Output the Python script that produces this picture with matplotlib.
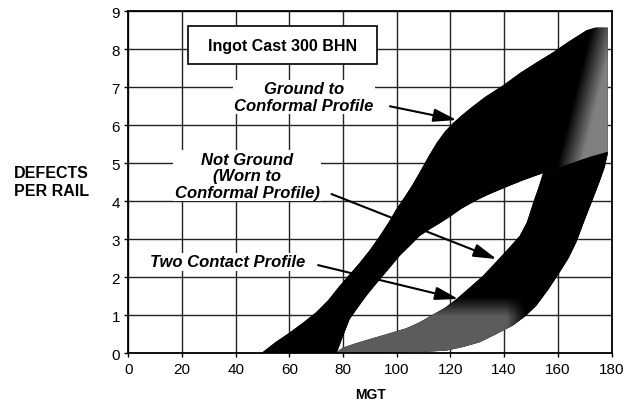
import numpy as np
import matplotlib
matplotlib.use("Agg")
import matplotlib.pyplot as plt

plt.rcParams['font.family'] = ['Liberation Sans', 'DejaVu Sans']

# axis ticks
x_ticks = [0, 20, 40, 60, 80, 100, 120, 140, 160, 180]
y_ticks = [0, 1, 2, 3, 4, 5, 6, 7, 8, 9]

# band 1 ("Ground to Conformal Profile") - upper/left edge and lower/right edge
band1_top_x = [49.5, 55, 60.2, 65, 70, 74.5, 78.8, 82.5, 86.3, 90, 93.7, 97, 99.9,
               103, 106, 109, 112, 115, 118, 121, 124, 128, 133, 139.6, 146, 152,
               158.2, 164, 170.7, 174, 178.6]
band1_top_y = [0, 0.3, 0.55, 0.8, 1.08, 1.4, 1.78, 2.08, 2.39, 2.72, 3.09, 3.45, 3.8,
               4.12, 4.45, 4.82, 5.2, 5.55, 5.84, 6.06, 6.25, 6.48, 6.75, 7.05, 7.38,
               7.65, 7.92, 8.2, 8.5, 8.57, 8.57]
band1_bot_x = [77.6, 80, 82.5, 85.5, 88.8, 91.8, 94.9, 98, 101.2, 104.8, 108.6, 112,
               116, 120, 124, 129, 134, 140, 147, 154.5, 160, 165, 172, 178.6]
band1_bot_y = [0, 0.45, 0.9, 1.2, 1.52, 1.78, 2.04, 2.3, 2.57, 2.82, 3.09, 3.25,
               3.42, 3.6, 3.8, 4.0, 4.17, 4.35, 4.55, 4.74, 4.88, 5.0, 5.17, 5.3]

# band 2 (not ground / two contact) - upper/left edge and lower/right edge
band2_top_x = [77.5, 80, 85, 91.2, 97, 103.6, 108.6, 113, 118, 122.3, 127, 132, 137.2,
               141.5, 145.8, 148.5, 151, 153, 154.5, 160, 165, 172, 178.6]
band2_top_y = [0.03, 0.15, 0.27, 0.4, 0.52, 0.66, 0.82, 1.0, 1.2, 1.43, 1.72, 2.03, 2.42,
               2.75, 3.09, 3.45, 4.0, 4.4, 4.74, 4.88, 5.0, 5.17, 5.3]
band2_bot_x = [77.5, 95, 108.6, 118.5, 125, 130.9, 137, 143.3, 148, 152, 156.5, 160.7,
               164, 166.9, 170, 173.1, 175.5, 177.5, 178.6]
band2_bot_y = [0.01, 0.02, 0.03, 0.07, 0.17, 0.29, 0.5, 0.73, 0.98, 1.25, 1.68, 2.13,
               2.5, 2.92, 3.5, 4.06, 4.5, 4.9, 5.25]

# labels: (text, x, y) and arrows: (start, tip)
title_box = ("  Ingot Cast 300 BHN  ", 57.4, 8.11)
labels = [("Ground to\nConformal Profile", 65.3, 6.75),
          ("Not Ground\n(Worn to\nConformal Profile)", 44.3, 4.67),
          ("Two Contact Profile", 37.1, 2.41)]
arrows = [((97.5, 6.5), (122.3, 6.14)),
          ((75.7, 4.19), (137.2, 2.48)),
          ((70.7, 2.32), (122.9, 1.43))]

fig = plt.figure(figsize=(6.35, 4.02), dpi=100)
ax = fig.add_axes([0.202, 0.1187, 0.761, 0.8507])

ax.set_xticks(x_ticks)
ax.set_yticks(y_ticks)
ax.set_axisbelow(True)
ax.grid(True, color='#222222', lw=1.0)
for s in ax.spines.values():
    s.set_linewidth(1.3)
ax.tick_params(length=3, width=1, labelsize=11, pad=3)

# bands
p1 = ax.fill(band1_top_x + [178.6] + band1_bot_x[::-1],
             band1_top_y + [5.3] + band1_bot_y[::-1], color='black', lw=0, zorder=2)[0]
p2 = ax.fill(band2_top_x + band2_bot_x[::-1],
             band2_top_y + band2_bot_y[::-1], color='black', lw=0, zorder=2)[0]

# faded photocopy shading on parts of the bands
gx, gy = np.meshgrid(np.linspace(0, 180, 361), np.linspace(0, 9, 181))
shade1 = np.clip((gx - (163.5 + 3.5 * (gy - 6))) / 9, 0, 1) * 0.5
shade2 = np.clip((1.45 - gy) / 0.5, 0, 1) * np.clip((148 - gx) / 7, 0, 1) * 0.36
for shade, patch in [(shade1, p1), (shade2, p2)]:
    im = ax.imshow(shade, origin='lower', extent=[0, 180, 0, 9], cmap='gray',
                   vmin=0, vmax=1, aspect='auto', interpolation='bilinear', zorder=2.5)
    im.set_clip_path(patch)
ax.set_xlim(0, 180)
ax.set_ylim(0, 9)

ax.text(title_box[1], title_box[2], title_box[0], ha='center', va='center',
        fontsize=11.5, fontweight='bold', zorder=5,
        bbox=dict(boxstyle='square,pad=0.7', fc='white', ec='black', lw=1.2))

for txt, x, y in labels:
    ax.text(x, y, txt, ha='center', va='center', fontsize=12, fontweight='bold',
            style='italic', linespacing=1.15, zorder=5,
            bbox=dict(fc='white', ec='none', pad=1))

for start, tip in arrows:
    ax.annotate('', xy=tip, xytext=start, zorder=6,
                arrowprops=dict(arrowstyle='-|>,head_length=0.7,head_width=0.2',
                                color='black', lw=1.5, mutation_scale=20,
                                shrinkA=0, shrinkB=0))

fig.text(14 / 635, 1 - 183 / 402, "DEFECTS\nPER RAIL", ha='left', va='center',
         fontsize=11.5, fontweight='bold', linespacing=1.25)
fig.text(370 / 635, 1 - 395 / 402, "MGT", ha='center', va='center',
         fontsize=10, fontweight='bold')

fig.savefig("out.png", dpi=100)
